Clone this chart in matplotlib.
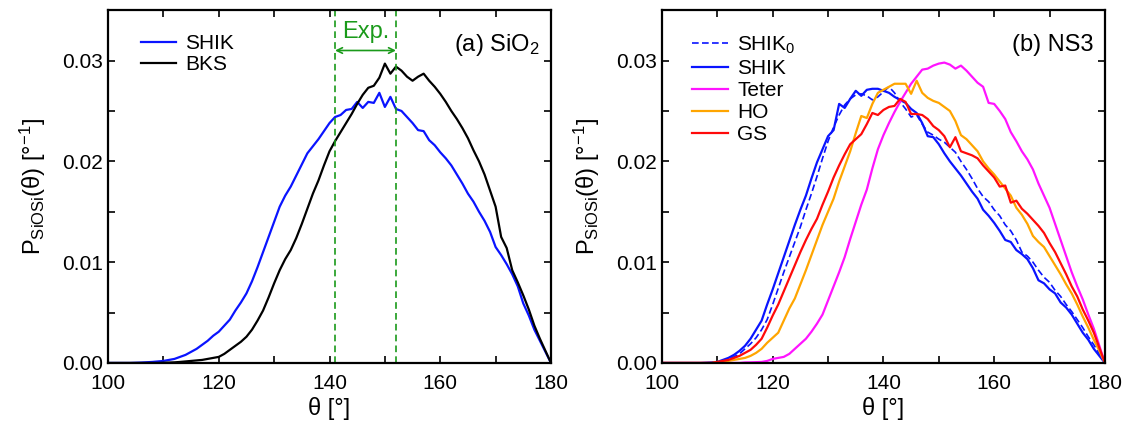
import matplotlib
matplotlib.use("Agg")
import matplotlib.pyplot as plt
from matplotlib.ticker import MultipleLocator
import numpy as np

plt.rcParams['font.family'] = ['Liberation Sans', 'DejaVu Sans']
plt.rcParams['mathtext.default'] = 'regular'

theta = np.arange(100, 181)

# (a) SiO2
sio2_shik = [0, 0, 0, 0, 0, 0.00002, 0.00004, 0.00007, 0.0001, 0.00015,
             0.0002, 0.0003, 0.0004, 0.0006, 0.0008, 0.0011, 0.0014, 0.0018, 0.0022, 0.0027,
             0.0031, 0.0037, 0.0043, 0.0052, 0.0060, 0.0069, 0.0081, 0.0095, 0.0110, 0.0125,
             0.0140, 0.0155, 0.0166, 0.0175, 0.0186, 0.0197, 0.0208, 0.0215, 0.0222, 0.0230,
             0.0238, 0.0244, 0.0246, 0.0251, 0.0252, 0.0259, 0.0253, 0.0259, 0.0258, 0.0268,
             0.0254, 0.0264, 0.0252, 0.0250, 0.0244, 0.0238, 0.0231, 0.0230, 0.0221, 0.0216,
             0.0209, 0.0203, 0.0196, 0.0187, 0.0178, 0.0168, 0.0160, 0.0150, 0.0141, 0.0130,
             0.0115, 0.0107, 0.0098, 0.0088, 0.0076, 0.0059, 0.0047, 0.0033, 0.0022, 0.0011, 0]
sio2_bks = [0, 0, 0, 0, 0, 0, 0, 0, 0, 0,
            0.00002, 0.00004, 0.00006, 0.0001, 0.00015, 0.0002, 0.00025, 0.0003, 0.0004, 0.0005,
            0.0006, 0.0009, 0.0013, 0.0017, 0.0021, 0.0026, 0.0033, 0.0042, 0.0052, 0.0065,
            0.0079, 0.0092, 0.0103, 0.0112, 0.0124, 0.0138, 0.0153, 0.0168, 0.0181, 0.0196,
            0.0210, 0.0220, 0.0229, 0.0238, 0.0247, 0.0257, 0.0266, 0.0273, 0.0275, 0.0283,
            0.0297, 0.0287, 0.0294, 0.0290, 0.0284, 0.0280, 0.0284, 0.0287, 0.0280, 0.0274,
            0.0267, 0.0259, 0.0250, 0.0242, 0.0233, 0.0223, 0.0211, 0.0200, 0.0187, 0.0171,
            0.0155, 0.0125, 0.0114, 0.0092, 0.0080, 0.0067, 0.0053, 0.0037, 0.0024, 0.0012, 0]
exp_range = [141, 152]

# (b) NS3
ns3_shik0 = [0, 0, 0, 0, 0, 0, 0, 0, 0, 0.00005,
             0.0001, 0.0002, 0.0004, 0.0006, 0.0009, 0.0014, 0.0019, 0.0025, 0.0033, 0.0043,
             0.0058, 0.0074, 0.0090, 0.0105, 0.0120, 0.0135, 0.0152, 0.0168, 0.0185, 0.0203,
             0.0220, 0.0234, 0.0246, 0.0256, 0.0262, 0.0266, 0.0267, 0.0265, 0.0261, 0.0264,
             0.0269, 0.0274, 0.0268, 0.0259, 0.0252, 0.0244, 0.0246, 0.0237, 0.0229, 0.0226,
             0.0222, 0.0219, 0.0214, 0.0209, 0.0200, 0.0192, 0.0183, 0.0173, 0.0165, 0.0160,
             0.0152, 0.0146, 0.0137, 0.0131, 0.0122, 0.0110, 0.0106, 0.0100, 0.0092, 0.0085,
             0.0080, 0.0072, 0.0066, 0.0058, 0.0051, 0.0043, 0.0035, 0.0026, 0.0018, 0.0009, 0]
ns3_shik = [0, 0, 0, 0, 0, 0, 0, 0, 0.00003, 0.00006,
            0.0001, 0.0003, 0.0005, 0.0008, 0.0012, 0.0017, 0.0024, 0.0033, 0.0042, 0.0058,
            0.0073, 0.0089, 0.0105, 0.0121, 0.0137, 0.0152, 0.0166, 0.0183, 0.0199, 0.0212,
            0.0225, 0.0231, 0.0257, 0.0253, 0.0262, 0.0270, 0.0265, 0.0271, 0.0272, 0.0272,
            0.0270, 0.0268, 0.0264, 0.0261, 0.0258, 0.0252, 0.0248, 0.0238, 0.0225, 0.0224,
            0.0217, 0.0208, 0.0200, 0.0193, 0.0186, 0.0178, 0.0170, 0.0163, 0.0152, 0.0146,
            0.0139, 0.0131, 0.0122, 0.0120, 0.0112, 0.0108, 0.0103, 0.0094, 0.0082, 0.0079,
            0.0073, 0.0069, 0.0060, 0.0055, 0.0048, 0.0039, 0.0030, 0.0023, 0.0014, 0.0007, 0]
ns3_teter = [0, 0, 0, 0, 0, 0, 0, 0, 0, 0,
             0, 0, 0, 0, 0, 0.00005, 0.00006, 0.00008, 0.0001, 0.0002,
             0.0004, 0.0005, 0.0006, 0.0009, 0.0014, 0.0019, 0.0024, 0.0031, 0.0039, 0.0048,
             0.0062, 0.0076, 0.0090, 0.0105, 0.0123, 0.0140, 0.0157, 0.0172, 0.0193, 0.0212,
             0.0226, 0.0238, 0.0249, 0.0259, 0.0268, 0.0277, 0.0284, 0.0291, 0.0292, 0.0295,
             0.0297, 0.0298, 0.0296, 0.0292, 0.0295, 0.0290, 0.0284, 0.0278, 0.0274, 0.0258,
             0.0257, 0.0250, 0.0242, 0.0229, 0.0220, 0.0210, 0.0202, 0.0192, 0.0178, 0.0166,
             0.0154, 0.0138, 0.0122, 0.0106, 0.0090, 0.0076, 0.0063, 0.0048, 0.0034, 0.0017, 0]
ns3_ho = [0, 0, 0, 0, 0, 0, 0, 0, 0, 0,
          0.0001, 0.0001, 0.0002, 0.0003, 0.0004, 0.0005, 0.0007, 0.0010, 0.0014, 0.0020,
          0.0025, 0.0030, 0.0042, 0.0054, 0.0064, 0.0078, 0.0092, 0.0107, 0.0122, 0.0137,
          0.0150, 0.0163, 0.0180, 0.0195, 0.0210, 0.0228, 0.0245, 0.0243, 0.0257, 0.0268,
          0.0271, 0.0274, 0.0277, 0.0277, 0.0277, 0.0267, 0.0280, 0.0268, 0.0263, 0.0260,
          0.0258, 0.0254, 0.0250, 0.0240, 0.0226, 0.0222, 0.0216, 0.0210, 0.0200, 0.0193,
          0.0187, 0.0180, 0.0173, 0.0166, 0.0154, 0.0147, 0.0138, 0.0126, 0.0120, 0.0115,
          0.0106, 0.0097, 0.0088, 0.0078, 0.0069, 0.0058, 0.0046, 0.0035, 0.0023, 0.0012, 0]
ns3_gs = [0, 0, 0, 0, 0, 0, 0, 0, 0, 0,
          0.0001, 0.0002, 0.0003, 0.0005, 0.0007, 0.0010, 0.0013, 0.0018, 0.0024, 0.0035,
          0.0047, 0.0058, 0.0071, 0.0084, 0.0097, 0.0110, 0.0122, 0.0133, 0.0143, 0.0157,
          0.0170, 0.0184, 0.0196, 0.0207, 0.0217, 0.0222, 0.0227, 0.0237, 0.0248, 0.0246,
          0.0251, 0.0254, 0.0255, 0.0262, 0.0259, 0.0247, 0.0247, 0.0246, 0.0242, 0.0235,
          0.0231, 0.0225, 0.0214, 0.0224, 0.0210, 0.0208, 0.0206, 0.0203, 0.0196, 0.0190,
          0.0184, 0.0175, 0.0176, 0.0159, 0.0161, 0.0153, 0.0148, 0.0142, 0.0136, 0.0129,
          0.0119, 0.0110, 0.0099, 0.0088, 0.0076, 0.0066, 0.0053, 0.0042, 0.0030, 0.0015, 0]

GREEN = "#1a9a1a"
LW = 1.6


def style_axes(ax):
    ax.set_xlim(100, 180)
    ax.set_ylim(0, 0.035)
    ax.xaxis.set_major_locator(MultipleLocator(20))
    ax.xaxis.set_minor_locator(MultipleLocator(10))
    ax.yaxis.set_major_locator(MultipleLocator(0.01))
    ax.yaxis.set_minor_locator(MultipleLocator(0.005))
    ax.yaxis.set_major_formatter(plt.FormatStrFormatter('%.2f'))
    ax.tick_params(which='both', direction='in', top=True, right=True, length=5, width=1.2, labelsize=15)
    ax.tick_params(axis='x', pad=8)
    for s in ax.spines.values():
        s.set_linewidth(1.6)
    ax.set_xlabel("θ [°]", fontsize=17, labelpad=3)
    ax.set_ylabel("P$_{SiOSi}$(θ) [°$^{-1}$]", fontsize=17, labelpad=10)


fig = plt.figure(figsize=(11.3, 4.24), dpi=100)
ax1 = fig.add_axes([0.0956, 0.144, 0.392, 0.832])
ax2 = fig.add_axes([0.5858, 0.144, 0.392, 0.832])

# panel (a)
ax1.plot(theta, sio2_shik, color="#0a14ff", lw=LW, label="SHIK")
ax1.plot(theta, sio2_bks, color="black", lw=LW, label="BKS")
for x in exp_range:
    ax1.axvline(x, color=GREEN, ls=(0, (4, 2.5)), lw=1.2)
ax1.annotate("", xy=(exp_range[0], 0.031), xytext=(exp_range[1], 0.031),
             arrowprops=dict(arrowstyle="<->", color=GREEN, lw=1.2, shrinkA=0, shrinkB=0))
ax1.text(sum(exp_range) / 2, 0.0328, "Exp.", color=GREEN, fontsize=17, ha="center", va="center")
ax1.text(0.975, 0.90, "(a) SiO$_2$", transform=ax1.transAxes, fontsize=17, ha="right", va="center")
style_axes(ax1)
ax1.legend(loc="upper left", bbox_to_anchor=(0.055, 0.955), frameon=False, fontsize=15,
           handlelength=1.7, handletextpad=0.45, labelspacing=0.1, borderaxespad=0)

# panel (b)
ax2.plot(theta, ns3_shik0, color="#0a14ff", lw=1.2, ls=(0, (4, 2)), label="SHIK$_0$")
ax2.plot(theta, ns3_shik, color="#0a14ff", lw=LW, label="SHIK")
ax2.plot(theta, ns3_teter, color="#ff14ff", lw=LW, label="Teter")
ax2.plot(theta, ns3_ho, color="#ffa500", lw=LW, label="HO")
ax2.plot(theta, ns3_gs, color="#ff0a0a", lw=LW, label="GS")
ax2.text(0.975, 0.90, "(b) NS3", transform=ax2.transAxes, fontsize=17, ha="right", va="center")
style_axes(ax2)
ax2.legend(loc="upper left", bbox_to_anchor=(0.05, 0.955), frameon=False, fontsize=15,
           handlelength=1.7, handletextpad=0.45, labelspacing=0.15, borderaxespad=0)

fig.savefig("out.png", dpi=100)
